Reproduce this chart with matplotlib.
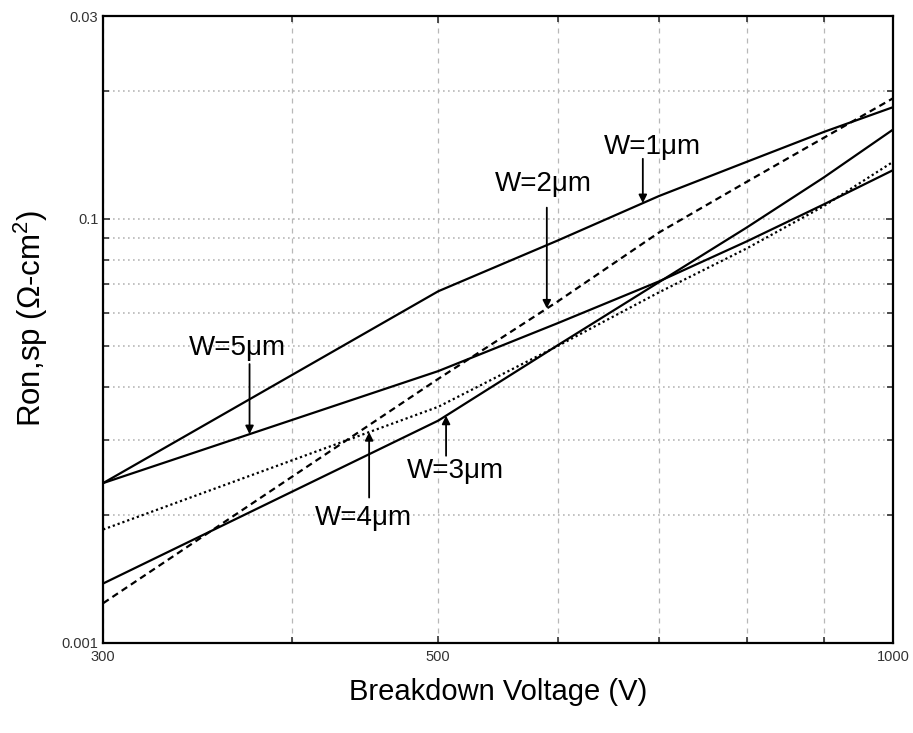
"""
Ron,sp vs breakdown voltage for different drift widths W (log-log)
"""
import numpy as np
import matplotlib
matplotlib.use('Agg')
import matplotlib.pyplot as plt
from matplotlib.ticker import FixedLocator, NullFormatter

plt.rcParams['font.family'] = ['Liberation Sans', 'DejaVu Sans']
plt.rcParams['mathtext.fontset'] = 'custom'
plt.rcParams['mathtext.rm'] = 'Liberation Sans'

# data
volts = [300, 500, 600, 700, 800, 900, 1000]
w1 = [0.00238, 0.00674, 0.00888, 0.0113, 0.0136, 0.0160, 0.0183]
w2 = [0.00124, 0.00419, 0.00638, 0.00927, 0.0122, 0.0155, 0.0192]
w3 = [0.00138, 0.00334, 0.00503, 0.00708, 0.00952, 0.0125, 0.0162]
w4 = [0.00185, 0.00360, 0.00501, 0.00670, 0.00850, 0.0107, 0.0136]
w5 = [0.00238, 0.00437, 0.00567, 0.00711, 0.00883, 0.0108, 0.0130]

x_major = [300, 500, 1000]
x_minor = [400, 600, 700, 800, 900]
y_major = [0.001, 0.01, 0.03]
y_labels = ['0.001', '0.1', '0.03']   # labels as printed on the original
y_minor = [0.002, 0.003, 0.004, 0.005, 0.006, 0.007, 0.008, 0.009, 0.02]

fig = plt.figure(figsize=(9.13, 7.33), dpi=100)
ax = fig.add_axes([0.113, 0.123, 0.865, 0.855])

ax.plot(volts, w1, color='black', lw=1.6, ls='-')
ax.plot(volts, w2, color='black', lw=1.6, ls=(0, (3, 2)))
ax.plot(volts, w3, color='black', lw=1.6, ls='-')
ax.plot(volts, w4, color='black', lw=1.6, ls=(0, (1, 1.3)))
ax.plot(volts, w5, color='black', lw=1.6, ls='-')

ax.set_xscale('log')
ax.set_yscale('log')
ax.set_xlim(300, 1000)
ax.set_ylim(0.001, 0.03)

ax.xaxis.set_major_locator(FixedLocator(x_major))
ax.xaxis.set_minor_locator(FixedLocator(x_minor))
ax.set_xticklabels([str(v) for v in x_major])
ax.xaxis.set_minor_formatter(NullFormatter())
ax.yaxis.set_major_locator(FixedLocator(y_major))
ax.yaxis.set_minor_locator(FixedLocator(y_minor))
ax.set_yticklabels(y_labels)
ax.yaxis.set_minor_formatter(NullFormatter())

ax.tick_params(which='both', direction='in', top=True, right=True,
               width=1.2, labelsize=10.5, colors='#333333')
ax.tick_params(which='major', length=5)
ax.tick_params(which='minor', length=4)
ax.tick_params(axis='x', pad=5)

# grid
ax.grid(True, axis='x', which='both', color='#b8b8b8', lw=0.9, ls=(0, (4, 4)))
ax.grid(True, axis='y', which='both', color='#b8b8b8', lw=1.2, ls=(0, (1, 2)))
ax.set_axisbelow(True)

for s in ax.spines.values():
    s.set_linewidth(1.6)

ax.set_xlabel('Breakdown Voltage (V)', fontsize=21, labelpad=10)
ax.set_ylabel('Ron,sp ($\\Omega$-cm$^2$)', fontsize=22.5)
ax.yaxis.set_label_coords(-0.067, 0.518)

# labels with arrows: (text, text x, text y, arrow x, arrow tail y, series)
notes = [
    ('W=1μm', 693, 0.01476, 683, 0.01383, w1),
    ('W=2μm', 587, 0.01208, 590, 0.01061, w2),
    ('W=5μm', 368, 0.00495, 375, 0.00454, w5),
    ('W=4μm', 446, 0.001965, 450, 0.0022, w4),
    ('W=3μm', 513, 0.002547, 506, 0.00276, w3),
]
for label, tx, ty, axx, ay, series in notes:
    tip = 10 ** np.interp(np.log10(axx), np.log10(volts), np.log10(series))
    ax.text(tx, ty, label, fontsize=20, ha='center', va='center')
    ax.annotate('', xy=(axx, tip), xytext=(axx, ay),
                arrowprops=dict(arrowstyle='-|>', color='black', lw=1.3,
                                mutation_scale=12, shrinkA=0, shrinkB=0))

plt.savefig('out.png', dpi=100)
